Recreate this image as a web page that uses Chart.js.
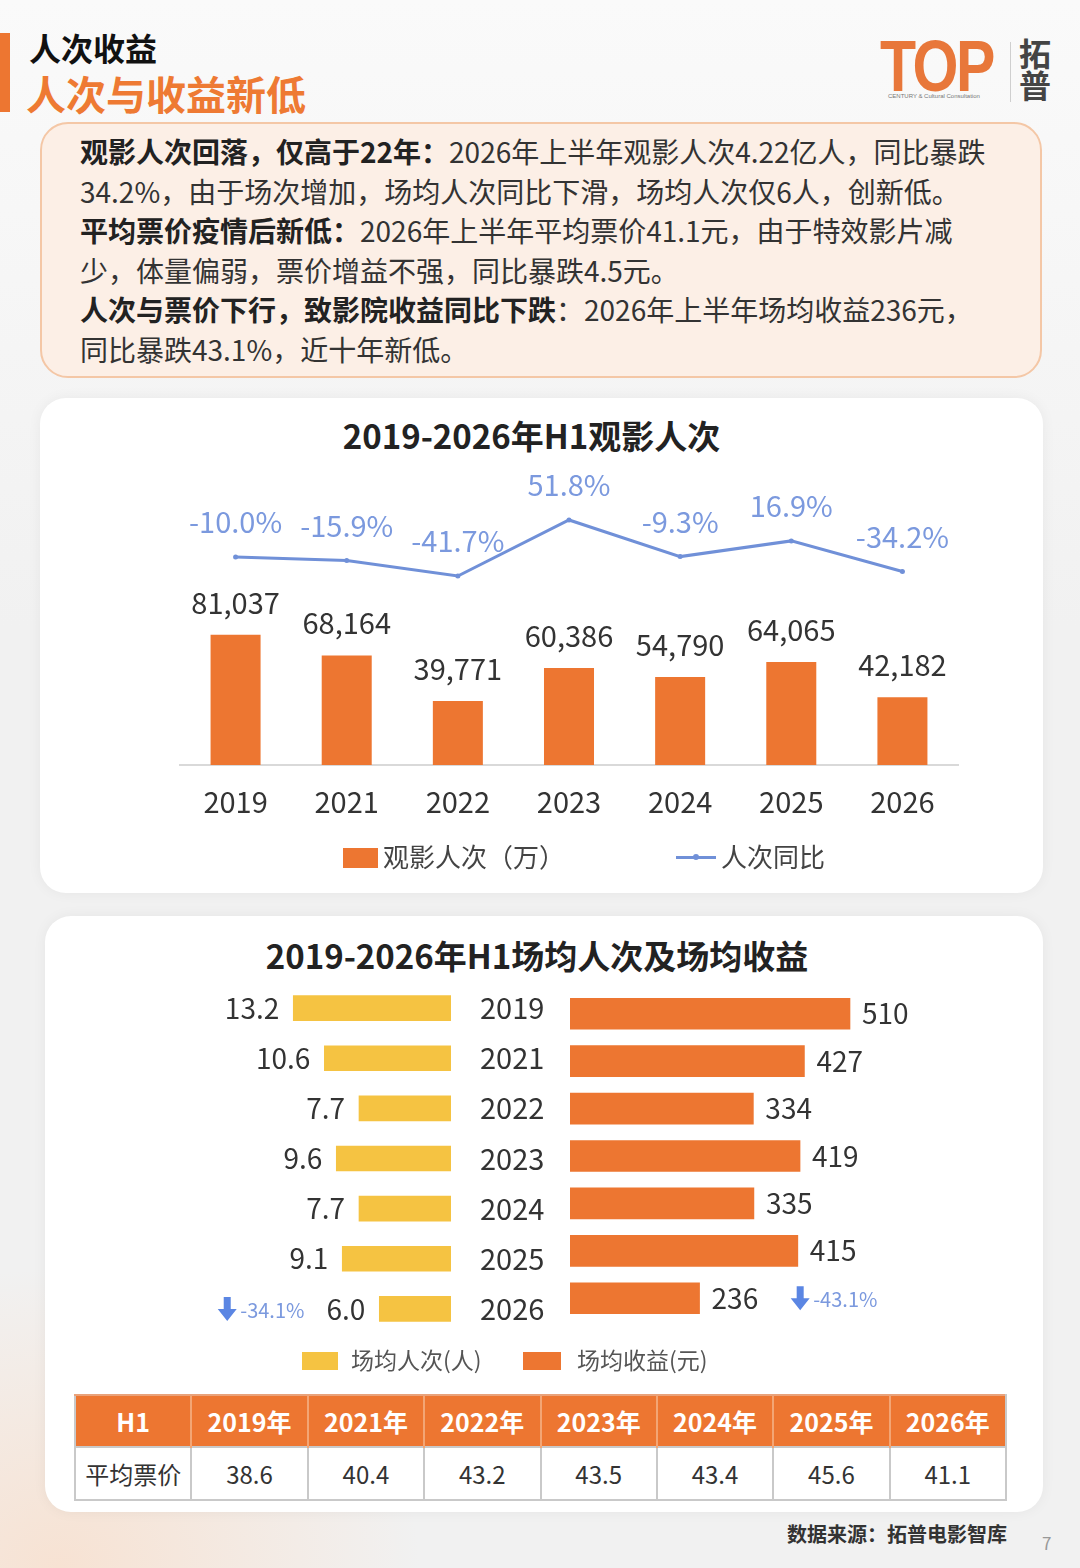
<!DOCTYPE html>
<html lang="zh-CN">
<head>
<meta charset="utf-8">
<title>人次收益</title>
<script src="https://cdn.jsdelivr.net/npm/chart.js@4.4.1/dist/chart.umd.min.js"></script>
<style>
  html, body { margin: 0; padding: 0; }
  body {
    width: 1080px; height: 1568px; position: relative; overflow: hidden;
    font-family: "Noto Sans CJK SC", "Noto Sans", sans-serif; color: #333;
    background:
      radial-gradient(ellipse 360px 300px at 60px 1568px, rgba(252, 214, 186, 0.55), rgba(252, 214, 186, 0) 100%),
      linear-gradient(#fafafa, #f1f1f1 40%, #f1f1f1);
  }
  .abs { position: absolute; }
  .side-bar { left: 0; top: 33px; width: 10px; height: 79px; background: #ED7631; }
  .h-small { left: 29px; top: 25px; font-size: 32px; font-weight: 700; color: #111; line-height: 44px; }
  .h-big { left: 26px; top: 68px; font-size: 40px; font-weight: 700; color: #EE7A33; line-height: 50px; }
  .logo-top { left: 880px; top: 26px; font-family: "Liberation Sans", sans-serif; font-weight: 700; font-size: 72px; color: #E8773A; letter-spacing: -3px; transform: scaleX(0.82); transform-origin: left top; line-height: 80px; }
  .logo-sub { left: 888px; top: 93px; font-family: "Liberation Sans", sans-serif; font-size: 6px; color: #777; white-space: nowrap; }
  .logo-line { left: 1010px; top: 42px; width: 1px; height: 60px; background: #cfcfcf; }
  .logo-cn { left: 1019px; top: 36px; font-size: 32px; font-weight: 700; color: #444; line-height: 32px; width: 36px; }
  .note {
    left: 40px; top: 122px; width: 1002px; height: 256px; box-sizing: border-box;
    background: #fcefe6; border: 2px solid #f4c7a6; border-radius: 28px;
    padding: 8px 0 0 38px; font-size: 28px; line-height: 39.5px; color: #333; white-space: nowrap;
  }
  .note b { color: #222; font-weight: 700; }
  .card { background: #fff; border-radius: 26px; box-shadow: 0 0 14px rgba(0,0,0,0.05); }
  .card1 { left: 40px; top: 398px; width: 1003px; height: 495px; }
  .card2 { left: 45px; top: 916px; width: 998px; height: 596px; }
  .ctitle { font-size: 33px; font-weight: 700; color: #222; line-height: 40px; text-align: center; white-space: nowrap; }
  .legend { font-size: 26px; color: #444; line-height: 30px; white-space: nowrap; }
  .swatch { display: inline-block; vertical-align: middle; }
  table.price {
    left: 74px; top: 1394px; width: 933px; border-collapse: collapse; table-layout: fixed;
  }
  table.price th {
    background: #ED7631; color: #fff; font-size: 25px; font-weight: 700; height: 50px; padding: 0;
    border-left: 2px solid #f3a574; border-top: 2px solid #e9a27a;
  }
  table.price th:first-child { border-left: 2px solid #c9c9c9; }
  table.price th:last-child { border-right: 2px solid #c9c9c9; }
  table.price td {
    background: #fff; font-size: 24px; color: #333; text-align: center; height: 51px; padding: 0;
    border: 2px solid #c9c9c9;
  }
  .source { left: 787px; top: 1520px; font-size: 20px; font-weight: 700; color: #333; line-height: 28px; }
  .page-no { left: 1042px; top: 1530px; font-size: 17px; color: #999; }
</style>
</head>
<body>

<div class="abs side-bar"></div>
<div class="abs h-small">人次收益</div>
<div class="abs h-big">人次与收益新低</div>

<div class="abs logo-top">TOP</div>
<div class="abs logo-sub">CENTURY &amp; Cultural Consultation</div>
<div class="abs logo-line"></div>
<div class="abs logo-cn">拓<br>普</div>

<div class="abs note">
  <b>观影人次回落，仅高于22年：</b>2026年上半年观影人次4.22亿人，同比暴跌<br>
  34.2%，由于场次增加，场均人次同比下滑，场均人次仅6人，创新低。<br>
  <b>平均票价疫情后新低：</b>2026年上半年平均票价41.1元，由于特效影片减<br>
  少，体量偏弱，票价增益不强，同比暴跌4.5元。<br>
  <b>人次与票价下行，致影院收益同比下跌</b>：2026年上半年场均收益236元，<br>
  同比暴跌43.1%，近十年新低。
</div>

<!-- card 1: audience bars + yoy line -->
<div class="abs card card1"></div>
<div class="abs ctitle" style="left:40px; top:415px; width:983px;">2019-2026年H1观影人次</div>
<canvas id="audienceChart" class="abs" style="left:40px; top:398px;" width="1003" height="495"></canvas>
<div class="abs legend" style="left:343px; top:841px;">
  <span class="swatch" style="width:35px; height:20px; background:#ED7631; margin-top:-4px;"></span><span style="margin-left:5px;">观影人次（万）</span>
</div>
<div class="abs legend" style="left:676px; top:841px;">
  <span class="swatch" style="position:relative; width:40px; height:3px; background:#7090d8; margin-top:-4px;"><span style="position:absolute; left:17px; top:-2px; width:6px; height:6px; border-radius:3px; background:#7090d8;"></span></span><span style="margin-left:5px;">人次同比</span>
</div>

<!-- card 2: per-show audience / revenue -->
<div class="abs card card2"></div>
<div class="abs ctitle" style="left:45px; top:935px; width:984px;">2019-2026年H1场均人次及场均收益</div>
<canvas id="perShowAudienceChart" class="abs" style="left:180px; top:975px;" width="380" height="370"></canvas>
<canvas id="perShowRevenueChart" class="abs" style="left:570px; top:975px;" width="400" height="370"></canvas>
<div class="abs legend" style="left:302px; top:1344px; font-size:23px; color:#555;">
  <span class="swatch" style="width:36px; height:18px; background:#F5C342; margin-top:-4px;"></span><span style="margin-left:13px;">场均人次(人)</span>
</div>
<div class="abs legend" style="left:523px; top:1344px; font-size:23px; color:#555;">
  <span class="swatch" style="width:38px; height:18px; background:#ED7631; margin-top:-4px;"></span><span style="margin-left:16px;">场均收益(元)</span>
</div>

<table class="abs price" id="priceTable"></table>

<div class="abs source">数据来源：拓普电影智库</div>
<div class="abs page-no">7</div>

<script>
// --- data ---
const years = ['2019', '2021', '2022', '2023', '2024', '2025', '2026'];
const audience = [81037, 68164, 39771, 60386, 54790, 64065, 42182];       // 观影人次（万）
const audienceYoY = [-10.0, -15.9, -41.7, 51.8, -9.3, 16.9, -34.2];       // 人次同比 %
const perShowAudience = [13.2, 10.6, 7.7, 9.6, 7.7, 9.1, 6.0];            // 场均人次(人)
const perShowRevenue = [510, 427, 334, 419, 335, 415, 236];               // 场均收益(元)
const avgTicketPrice = [38.6, 40.4, 43.2, 43.5, 43.4, 45.6, 41.1];        // 平均票价
const audienceDropNote = '-34.1%';
const revenueDropNote = '-43.1%';

const FONT = '"Noto Sans CJK SC", "Noto Sans", sans-serif';
const ORANGE = '#ED7631';
const YELLOW = '#F5C342';
const BLUE = '#7090d8';
const BLUE_TEXT = '#7b99de';

Chart.defaults.font.family = FONT;
Chart.defaults.animation = false;
Chart.defaults.plugins.legend.display = false;
Chart.defaults.plugins.tooltip.enabled = false;

// small blue down arrow used next to the 2026 notes
function drawDownArrow(ctx, cx, cy, color) {
    ctx.save();
    ctx.fillStyle = color;
    ctx.beginPath();
    ctx.moveTo(cx - 3.5, cy - 12);
    ctx.lineTo(cx + 3.5, cy - 12);
    ctx.lineTo(cx + 3.5, cy);
    ctx.lineTo(cx + 9.5, cy);
    ctx.lineTo(cx, cy + 12);
    ctx.lineTo(cx - 9.5, cy);
    ctx.lineTo(cx - 3.5, cy);
    ctx.closePath();
    ctx.fill();
    ctx.restore();
}

// Chart 1: bars with yoy line
const audienceLabels = {
    id: 'audienceLabels',
    afterDatasetsDraw(chart) {
        const ctx = chart.ctx;
        ctx.save();
        ctx.textAlign = 'center';
        ctx.textBaseline = 'middle';
        ctx.font = '29px ' + FONT;
        ctx.fillStyle = '#333';
        chart.getDatasetMeta(0).data.forEach((bar, i) => {
            ctx.fillText(audience[i].toLocaleString('en-US'), bar.x, bar.y - 32);
        });
        ctx.fillStyle = BLUE_TEXT;
        chart.getDatasetMeta(1).data.forEach((pt, i) => {
            ctx.fillText(audienceYoY[i].toFixed(1) + '%', pt.x, pt.y - 35);
        });
        ctx.restore();
    }
};

new Chart(document.getElementById('audienceChart'), {
    type: 'bar',
    data: {
        labels: years,
        datasets: [
            { type: 'bar', label: '观影人次（万）', data: audience, backgroundColor: ORANGE, barPercentage: 0.9, categoryPercentage: 0.5, yAxisID: 'y', order: 2 },
            { type: 'line', label: '人次同比', data: audienceYoY, borderColor: BLUE, backgroundColor: BLUE, borderWidth: 3, pointRadius: 2.5, pointBorderWidth: 0, tension: 0, yAxisID: 'y1', order: 1 }
        ]
    },
    options: {
        responsive: false,
        layout: { padding: { left: 140, right: 85, top: 80, bottom: 68 } },
        scales: {
            x: {
                grid: { display: false, drawTicks: false },
                border: { display: true, color: '#d9d9d9', width: 2 },
                ticks: { color: '#333', font: { size: 29 }, padding: 20 },
                afterFit: (scale) => { scale.height = 60; }
            },
            y: { display: false, min: 0, max: 178500 },
            y1: { display: false, min: -357.2, max: 121.9 }
        }
    },
    plugins: [audienceLabels]
});

// Chart 2 left: per-show audience, bars grow leftwards
const perShowAudienceLabels = {
    id: 'perShowAudienceLabels',
    afterDatasetsDraw(chart) {
        const ctx = chart.ctx;
        ctx.save();
        ctx.textBaseline = 'middle';
        ctx.textAlign = 'right';
        ctx.font = '28px ' + FONT;
        ctx.fillStyle = '#333';
        const bars = chart.getDatasetMeta(0).data;
        bars.forEach((bar, i) => {
            ctx.fillText(perShowAudience[i].toFixed(1), bar.x - 14, bar.y);
        });
        // note for the last year
        const last = bars[bars.length - 1];
        const valueText = perShowAudience[perShowAudience.length - 1].toFixed(1);
        const noteRight = last.x - 14 - ctx.measureText(valueText).width - 22;
        ctx.font = '20px ' + FONT;
        ctx.fillStyle = BLUE_TEXT;
        ctx.fillText(audienceDropNote, noteRight, last.y + 1);
        const noteLeft = noteRight - ctx.measureText(audienceDropNote).width;
        drawDownArrow(ctx, noteLeft - 13, last.y, '#5b86e3');
        ctx.restore();
    }
};

new Chart(document.getElementById('perShowAudienceChart'), {
    type: 'bar',
    data: {
        labels: years,
        datasets: [{ label: '场均人次(人)', data: perShowAudience, backgroundColor: YELLOW, barThickness: 25 }]
    },
    options: {
        indexAxis: 'y',
        responsive: false,
        layout: { padding: { left: 0, right: 0, top: 8, bottom: 11 } },
        scales: {
            x: { display: false, reverse: true, min: 0, max: 22.68 },
            y: {
                position: 'right',
                grid: { display: false, drawTicks: false },
                border: { display: false },
                ticks: { color: '#333', font: { size: 29 }, padding: 29 },
                afterFit: (scale) => {
                    scale.width = 109;
                    // the tick padding should not shrink the plot vertically
                    scale.paddingTop = 0;
                    scale.paddingBottom = 0;
                }
            }
        }
    },
    plugins: [perShowAudienceLabels]
});

// Chart 2 right: per-show revenue
const perShowRevenueLabels = {
    id: 'perShowRevenueLabels',
    afterDatasetsDraw(chart) {
        const ctx = chart.ctx;
        ctx.save();
        ctx.textBaseline = 'middle';
        ctx.textAlign = 'left';
        ctx.font = '28px ' + FONT;
        ctx.fillStyle = '#333';
        const bars = chart.getDatasetMeta(0).data;
        bars.forEach((bar, i) => {
            ctx.fillText(String(perShowRevenue[i]), bar.x + 12, bar.y);
        });
        const last = bars[bars.length - 1];
        const valueEnd = last.x + 12 + ctx.measureText(String(perShowRevenue[perShowRevenue.length - 1])).width;
        drawDownArrow(ctx, valueEnd + 42, last.y, '#5b86e3');
        ctx.font = '20px ' + FONT;
        ctx.fillStyle = BLUE_TEXT;
        ctx.fillText(revenueDropNote, valueEnd + 55, last.y + 1);
        ctx.restore();
    }
};

new Chart(document.getElementById('perShowRevenueChart'), {
    type: 'bar',
    data: {
        labels: years,
        datasets: [{ label: '场均收益(元)', data: perShowRevenue, backgroundColor: ORANGE, barThickness: 31 }]
    },
    options: {
        indexAxis: 'y',
        responsive: false,
        layout: { padding: { left: 0, right: 0, top: 15, bottom: 23 } },
        scales: {
            x: { display: false, min: 0, max: 728.6 },
            y: { display: false }
        }
    },
    plugins: [perShowRevenueLabels]
});

// ticket price table
const table = document.getElementById('priceTable');
table.innerHTML =
    '<tr><th>H1</th>' + years.map(y => '<th>' + y + '年</th>').join('') + '</tr>' +
    '<tr><td>平均票价</td>' + avgTicketPrice.map(v => '<td>' + v.toFixed(1) + '</td>').join('') + '</tr>';
</script>
</body>
</html>
